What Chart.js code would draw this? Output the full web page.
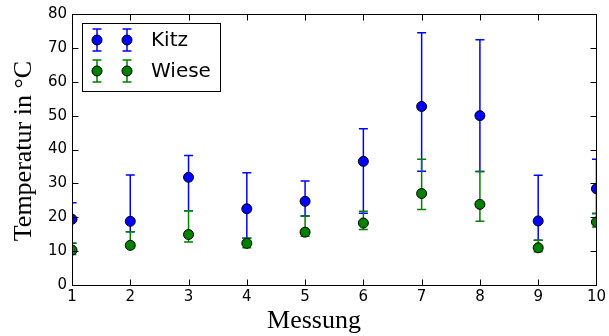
<!DOCTYPE html>
<html>
<head>
<meta charset="utf-8">
<script src="https://cdn.jsdelivr.net/npm/chart.js@4.4.1/dist/chart.umd.min.js"></script>
<style>
  html, body { margin: 0; padding: 0; background: #fff; }
  #wrap { width: 609px; height: 336px; }
</style>
</head>
<body>
<div id="wrap"><canvas id="tempChart"></canvas></div>
<script>
// Messpunkte (x-Achse) und Tick-Beschriftungen
const messung = [1, 2, 3, 4, 5, 6, 7, 8, 9, 10];
const yTicks = [0, 10, 20, 30, 40, 50, 60, 70, 80];

// Kitz: Mittelwert + untere/obere Fehlergrenze
const kitzMean = [19.4, 18.8, 31.8, 22.5, 24.7, 36.5, 52.7, 50.0, 18.9, 28.4];
const kitzLow  = [12.3, 15.7, 21.9, 13.8, 20.4, 21.2, 33.6, 33.5, 13.2, 21.1];
const kitzHigh = [24.3, 32.5, 38.2, 33.1, 30.7, 46.1, 74.5, 72.4, 32.4, 37.1];

// Wiese
const wieseMean = [10.3, 11.7, 14.9, 12.3, 15.6, 18.3, 27.0, 23.8, 11.0, 18.6];
const wieseLow  = [9.0, 10.9, 12.7, 11.0, 14.4, 16.4, 22.3, 18.8, 9.8, 17.1];
const wieseHigh = [12.3, 15.7, 21.9, 13.8, 20.4, 21.8, 37.1, 33.5, 13.2, 21.1];

const BLUE = '#0000ff';
const GREEN = '#008000';
const TICK_FONT = 'DejaVu Sans';
const SERIF = 'Liberation Serif';

function toPoints(ys) {
    return messung.map((x, i) => ({ x: x, y: ys[i] }));
}

// Fehlerbalken (vertikal mit Kappen), gezeichnet vor den Markern des Datensatzes
function drawErrorBar(ctx, px, yTop, yBot, color) {
    ctx.strokeStyle = color;
    ctx.lineWidth = 1.5;
    ctx.beginPath();
    ctx.moveTo(px, yTop); ctx.lineTo(px, yBot);
    ctx.moveTo(px - 4.5, yTop); ctx.lineTo(px + 4.5, yTop);
    ctx.moveTo(px - 4.5, yBot); ctx.lineTo(px + 4.5, yBot);
    ctx.stroke();
}

const errorBars = {
    id: 'errorBars',
    beforeDatasetDraw(chart, args) {
        const ds = chart.data.datasets[args.index];
        const xs = chart.scales.x, ys = chart.scales.y;
        const a = chart.chartArea;
        const ctx = chart.ctx;
        ctx.save();
        ctx.beginPath();
        ctx.rect(a.left, a.top, a.right - a.left, a.bottom - a.top);
        ctx.clip();
        ds.errLow.forEach((lo, i) => {
            const px = xs.getPixelForValue(messung[i]);
            drawErrorBar(ctx, px, ys.getPixelForValue(ds.errHigh[i]), ys.getPixelForValue(lo), ds.errColor);
        });
        ctx.restore();
    }
};

// Rahmen, nach innen zeigende Ticks, Achsentitel und Legende im matplotlib-Stil
const frameAndLegend = {
    id: 'frameAndLegend',
    afterDraw(chart) {
        const ctx = chart.ctx;
        const a = chart.chartArea;
        const xs = chart.scales.x, ys = chart.scales.y;
        const L = Math.round(a.left) + 0.5, R = Math.round(a.right) + 0.5;
        const T = Math.round(a.top) + 0.5, B = Math.round(a.bottom) + 0.5;
        ctx.save();
        ctx.strokeStyle = '#000';
        ctx.lineWidth = 1;
        ctx.strokeRect(L, T, R - L, B - T);

        ctx.beginPath();
        messung.forEach(v => {
            const px = Math.round(xs.getPixelForValue(v)) + 0.5;
            ctx.moveTo(px, B); ctx.lineTo(px, B - 6);
            ctx.moveTo(px, T); ctx.lineTo(px, T + 6);
        });
        yTicks.forEach(v => {
            const py = Math.round(ys.getPixelForValue(v)) + 0.5;
            ctx.moveTo(L, py); ctx.lineTo(L + 6, py);
            ctx.moveTo(R, py); ctx.lineTo(R - 6, py);
        });
        ctx.stroke();

        // Achsentitel
        ctx.fillStyle = '#000';
        ctx.font = '26px "' + SERIF + '"';
        ctx.textAlign = 'center';
        ctx.textBaseline = 'alphabetic';
        ctx.fillText('Messung', 314, 328);
        ctx.save();
        ctx.translate(31, 151);
        ctx.rotate(-Math.PI / 2);
        ctx.fillText('Temperatur in °C', 0, 0);
        ctx.restore();

        // Legende
        ctx.fillStyle = '#fff';
        ctx.fillRect(82.5, 23.5, 138, 68);
        ctx.strokeStyle = '#000';
        ctx.lineWidth = 1;
        ctx.strokeRect(82.5, 23.5, 138, 68);
        const entries = [
            { label: 'Kitz', color: BLUE, y: 40 },
            { label: 'Wiese', color: GREEN, y: 71 }
        ];
        entries.forEach(e => {
            [97, 127].forEach(mx => {
                drawErrorBar(ctx, mx, e.y - 11, e.y + 11, e.color);
                ctx.beginPath();
                ctx.arc(mx, e.y, 5, 0, Math.PI * 2);
                ctx.fillStyle = e.color;
                ctx.fill();
                ctx.lineWidth = 1;
                ctx.strokeStyle = '#000';
                ctx.stroke();
            });
            ctx.fillStyle = '#000';
            ctx.font = '20px "' + TICK_FONT + '"';
            ctx.textAlign = 'left';
            ctx.textBaseline = 'middle';
            ctx.fillText(e.label, 151, e.y + 1);
        });
        ctx.restore();
    }
};

function initChart() {
    const ctx = document.getElementById('tempChart').getContext('2d');
    new Chart(ctx, {
        type: 'scatter',
        data: {
            datasets: [
                {
                    label: 'Kitz',
                    data: toPoints(kitzMean),
                    errLow: kitzLow, errHigh: kitzHigh, errColor: BLUE,
                    backgroundColor: BLUE,
                    borderColor: '#000',
                    borderWidth: 1,
                    pointRadius: 5,
                    pointHoverRadius: 5,
                    clip: 0,
                    order: 2
                },
                {
                    label: 'Wiese',
                    data: toPoints(wieseMean),
                    errLow: wieseLow, errHigh: wieseHigh, errColor: GREEN,
                    backgroundColor: GREEN,
                    borderColor: '#000',
                    borderWidth: 1,
                    pointRadius: 5,
                    pointHoverRadius: 5,
                    clip: 0,
                    order: 1
                }
            ]
        },
        options: {
            responsive: true,
            maintainAspectRatio: false,
            animation: false,
            events: [],
            layout: { padding: { top: 13, right: 12, left: 0, bottom: 0 } },
            plugins: {
                legend: { display: false },
                tooltip: { enabled: false }
            },
            scales: {
                x: {
                    type: 'linear',
                    min: 1, max: 10,
                    afterFit: s => { s.height = 51; },
                    afterBuildTicks: s => { s.ticks = messung.map(v => ({ value: v })); },
                    grid: { display: false, drawTicks: false },
                    border: { display: false },
                    ticks: { color: '#000', padding: 3, font: { family: TICK_FONT, size: 15 }, maxRotation: 0, autoSkip: false }
                },
                y: {
                    min: 0, max: 80,
                    afterFit: s => { s.width = 72; },
                    afterBuildTicks: s => { s.ticks = yTicks.map(v => ({ value: v })); },
                    grid: { display: false, drawTicks: false },
                    border: { display: false },
                    ticks: { color: '#000', padding: 5, font: { family: TICK_FONT, size: 15 } }
                }
            }
        },
        plugins: [errorBars, frameAndLegend]
    });
}

window.onload = initChart;
</script>
</body>
</html>
